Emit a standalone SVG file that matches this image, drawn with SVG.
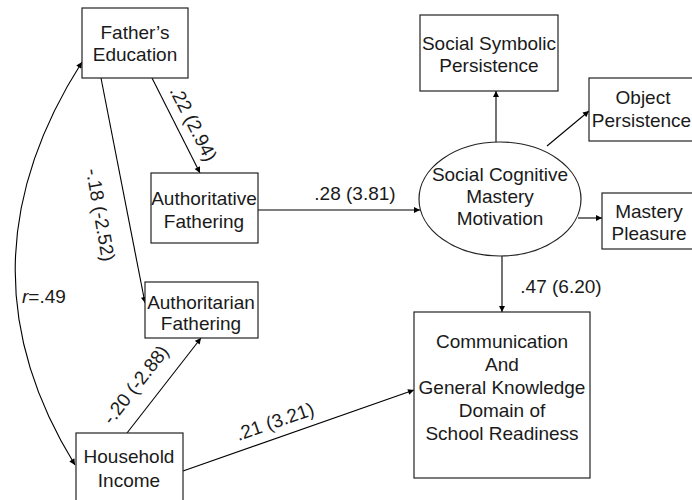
<svg xmlns="http://www.w3.org/2000/svg" width="692" height="500" viewBox="0 0 692 500">
<defs>
<marker id="ah" viewBox="0 0 10 10" refX="10" refY="5" markerWidth="7" markerHeight="6" markerUnits="userSpaceOnUse" orient="auto-start-reverse">
<path d="M0,0 L10,5 L0,10 z" fill="#000"/>
</marker>
<style>
.box{fill:#fff;stroke:#222;stroke-width:1.2}
.t{font-family:"Liberation Sans",Arial,sans-serif;font-size:19px;fill:#1a1a1a;text-anchor:middle}
.e{fill:none;stroke:#000;stroke-width:1.1;marker-end:url(#ah)}
</style>
</defs>
<rect width="692" height="500" fill="#fff"/>
<g id="connectors">
<line class="e" x1="152" y1="78" x2="200" y2="173"/>
<line class="e" x1="101" y1="78" x2="145" y2="303"/>
<line class="e" x1="127" y1="433" x2="201" y2="338"/>
<line class="e" x1="183" y1="471" x2="414" y2="390"/>
<line class="e" x1="258" y1="210" x2="420" y2="210"/>
<line class="e" x1="496" y1="142" x2="496" y2="91"/>
<line class="e" x1="547" y1="146" x2="589" y2="111"/>
<line class="e" x1="578" y1="218" x2="602" y2="218"/>
<line class="e" x1="502" y1="256" x2="502" y2="312"/>
<path class="e" d="M82,62 Q-48,266 75,465" style="marker-start:url(#ah)"/>
<text class="t" transform="translate(193,124) rotate(63)" y="6">.22 (2.94)</text>
<text class="t" transform="translate(100,215) rotate(80)" y="6">-.18 (-2.52)</text>
<text class="t" transform="translate(136,385) rotate(-52)" y="6">-.20 (-2.88)</text>
<text class="t" transform="translate(275,422) rotate(-19)" y="6">.21 (3.21)</text>
<text class="t" x="355" y="200">.28 (3.81)</text>
<text class="t" x="561" y="293">.47 (6.20)</text>
<text class="t" x="22" y="303" style="text-anchor:start"><tspan font-style="italic">r</tspan>=.49</text>
</g>
<g id="fathers-education">
<rect class="box" x="82" y="8" width="106" height="70"/>
<text class="t" x="135" y="39">Father’s</text>
<text class="t" x="135" y="61">Education</text>
</g>
<g id="authoritative-fathering">
<rect class="box" x="151" y="173" width="107" height="70"/>
<text class="t" x="204" y="205">Authoritative</text>
<text class="t" x="204" y="228">Fathering</text>
</g>
<g id="authoritarian-fathering">
<rect class="box" x="145" y="282" width="113" height="56"/>
<text class="t" x="201" y="309">Authoritarian</text>
<text class="t" x="201" y="330">Fathering</text>
</g>
<g id="household-income">
<rect class="box" x="76" y="433" width="107" height="70"/>
<text class="t" x="129" y="463">Household</text>
<text class="t" x="129" y="487">Income</text>
</g>
<g id="social-cognitive-mastery-motivation">
<ellipse class="box" cx="500" cy="199" rx="81" ry="57"/>
<text class="t" x="500" y="181">Social Cognitive</text>
<text class="t" x="500" y="203">Mastery</text>
<text class="t" x="500" y="225">Motivation</text>
</g>
<g id="social-symbolic-persistence">
<rect class="box" x="420" y="15" width="138" height="76"/>
<text class="t" x="489" y="50">Social Symbolic</text>
<text class="t" x="489" y="72">Persistence</text>
</g>
<g id="object-persistence">
<rect class="box" x="589" y="78" width="110" height="63"/>
<text class="t" x="643" y="104">Object</text>
<text class="t" x="641.5" y="127">Persistence</text>
</g>
<g id="mastery-pleasure">
<rect class="box" x="602" y="193" width="96" height="56"/>
<text class="t" x="649" y="218">Mastery</text>
<text class="t" x="649" y="240">Pleasure</text>
</g>
<g id="communication">
<rect class="box" x="414" y="312" width="176" height="166"/>
<text class="t" x="502" y="348">Communication</text>
<text class="t" x="502" y="371">And</text>
<text class="t" x="502" y="394">General Knowledge</text>
<text class="t" x="502" y="417">Domain of</text>
<text class="t" x="502" y="440">School Readiness</text>
</g>
</svg>
